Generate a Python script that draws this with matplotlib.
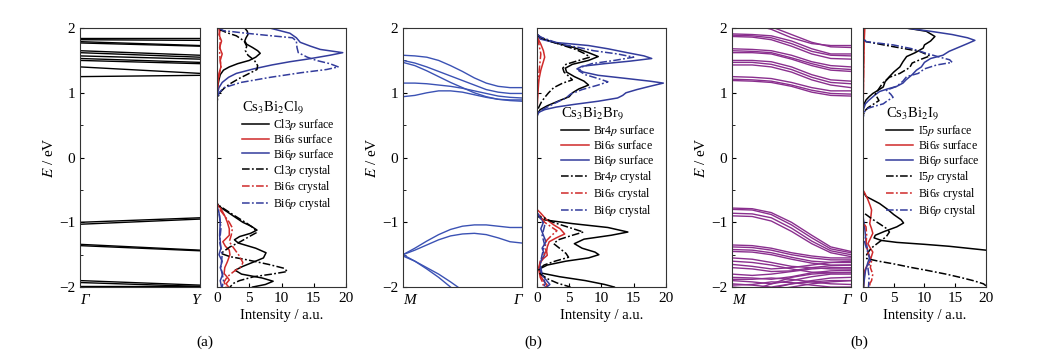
import numpy as np
import matplotlib
matplotlib.use("Agg")
import matplotlib.pyplot as plt

plt.rcParams['font.family'] = ['Liberation Serif', 'DejaVu Serif']
plt.rcParams['mathtext.fontset'] = 'stix'

# ---------------- band structures (k from 0 to 1) ----------------
k_a = [0.0, 0.5, 1.0]
bands_a = [
    [1.85, 1.85, 1.85], [1.82, 1.815, 1.81], [1.79, 1.76, 1.73], [1.77, 1.745, 1.72],
    [1.65, 1.615, 1.58], [1.62, 1.585, 1.55], [1.57, 1.545, 1.52], [1.53, 1.50, 1.47],
    [1.50, 1.475, 1.45], [1.40, 1.35, 1.30], [1.25, 1.26, 1.27],
    [-1.00, -0.965, -0.93], [-1.03, -0.99, -0.95], [-1.34, -1.385, -1.43],
    [-1.36, -1.40, -1.44], [-1.90, -1.935, -1.97], [-1.93, -1.96, -1.99], [-1.99, -1.99, -1.99],
]

k_b = [0.0, 0.1, 0.2, 0.3, 0.4, 0.5, 0.6, 0.7, 0.8, 0.9, 1.0]
bands_b = [
    [1.58, 1.57, 1.55, 1.50, 1.42, 1.33, 1.23, 1.15, 1.10, 1.08, 1.08],
    [1.50, 1.46, 1.40, 1.33, 1.26, 1.19, 1.12, 1.05, 1.01, 0.99, 0.99],
    [1.47, 1.42, 1.34, 1.25, 1.16, 1.08, 1.00, 0.94, 0.90, 0.88, 0.87],
    [1.15, 1.15, 1.14, 1.12, 1.10, 1.07, 1.03, 0.99, 0.95, 0.93, 0.92],
    [0.94, 0.96, 1.00, 1.03, 1.03, 1.01, 0.97, 0.93, 0.90, 0.89, 0.89],
    [-1.50, -1.40, -1.29, -1.19, -1.11, -1.06, -1.04, -1.04, -1.06, -1.08, -1.08],
    [-1.50, -1.43, -1.35, -1.27, -1.21, -1.18, -1.17, -1.19, -1.24, -1.30, -1.32],
    [-1.50, -1.60, -1.72, -1.85, -2.00, -2.15, -2.30, -2.45, -2.60, -2.75, -2.90],
    [-1.52, -1.60, -1.70, -1.80, -1.92, -2.05, -2.20, -2.35, -2.50, -2.65, -2.80],
]

k_c = [0.0, 0.17, 0.33, 0.5, 0.67, 0.83, 1.0]
bands_c = [
    [2.10, 2.06, 1.98, 1.85, 1.76, 1.73, 1.73], [2.15, 2.10, 2.02, 1.90, 1.78, 1.71, 1.70],
    [1.91, 1.90, 1.88, 1.80, 1.68, 1.60, 1.60], [1.89, 1.88, 1.85, 1.76, 1.64, 1.58, 1.57],
    [1.87, 1.86, 1.82, 1.72, 1.60, 1.53, 1.52], [1.68, 1.67, 1.65, 1.58, 1.48, 1.42, 1.40],
    [1.65, 1.64, 1.62, 1.54, 1.45, 1.38, 1.36], [1.62, 1.62, 1.60, 1.52, 1.42, 1.35, 1.33],
    [1.50, 1.50, 1.48, 1.40, 1.28, 1.20, 1.18], [1.47, 1.47, 1.44, 1.36, 1.24, 1.16, 1.14],
    [1.43, 1.43, 1.40, 1.32, 1.20, 1.12, 1.08], [1.25, 1.24, 1.22, 1.16, 1.08, 1.03, 1.03],
    [1.21, 1.20, 1.18, 1.12, 1.04, 0.99, 0.98], [1.19, 1.18, 1.16, 1.10, 1.01, 0.96, 0.95],
    [-0.78, -0.79, -0.85, -1.00, -1.20, -1.38, -1.45], [-0.80, -0.81, -0.88, -1.04, -1.24, -1.41, -1.47],
    [-0.86, -0.87, -0.93, -1.09, -1.29, -1.44, -1.50], [-0.90, -0.91, -0.98, -1.14, -1.33, -1.47, -1.53],
    [-1.35, -1.36, -1.40, -1.47, -1.52, -1.55, -1.55], [-1.38, -1.39, -1.43, -1.50, -1.55, -1.58, -1.58],
    [-1.42, -1.43, -1.47, -1.54, -1.60, -1.62, -1.62], [-1.45, -1.46, -1.50, -1.57, -1.63, -1.66, -1.66],
    [-1.55, -1.57, -1.62, -1.68, -1.70, -1.72, -1.72], [-1.60, -1.62, -1.66, -1.72, -1.77, -1.78, -1.78],
    [-1.65, -1.68, -1.72, -1.70, -1.66, -1.62, -1.60], [-1.70, -1.72, -1.76, -1.75, -1.70, -1.67, -1.66],
    [-1.80, -1.82, -1.80, -1.76, -1.72, -1.70, -1.70], [-1.85, -1.86, -1.88, -1.84, -1.78, -1.75, -1.74],
    [-1.88, -1.88, -1.86, -1.88, -1.92, -1.95, -1.96], [-1.90, -1.92, -1.95, -1.90, -1.84, -1.80, -1.80],
    [-1.95, -1.97, -2.00, -1.95, -1.90, -1.86, -1.85], [-1.97, -1.96, -1.92, -1.93, -1.97, -2.00, -2.00],
    [-2.00, -2.02, -2.05, -2.00, -1.95, -1.92, -1.90], [-2.10, -2.05, -1.95, -1.85, -1.80, -1.78, -1.77],
    [-2.10, -2.08, -2.02, -1.95, -1.92, -1.90, -1.90],
]

# ---------------- projected DOS, (E, intensity) pairs ----------------
a_halp_surf = [(2.0, 4.3), (1.95, 4.7), (1.9, 4.8), (1.85, 4.5), (1.8, 4.3), (1.75, 4.6), (1.7, 5.5), (1.65, 6.3),
               (1.61, 6.7), (1.55, 6.0), (1.5, 5.0), (1.45, 3.2), (1.4, 1.9), (1.35, 1.0), (1.28, 0.5), (1.2, 0.3),
               (1.1, 0.1), (1.0, 0.0), (-0.7, 0.0), (-0.75, 0.3), (-0.8, 1.0), (-0.9, 2.5), (-1.0, 4.0), (-1.06, 5.3),
               (-1.12, 6.2), (-1.17, 5.2), (-1.22, 3.5), (-1.27, 2.7), (-1.32, 3.3), (-1.4, 6.0), (-1.47, 7.6),
               (-1.55, 7.2), (-1.62, 5.5), (-1.68, 4.0), (-1.74, 2.8), (-1.8, 3.8), (-1.86, 7.0), (-1.91, 8.7),
               (-1.96, 7.5), (-2.0, 5.5)]
a_bi6s_surf = [(2.0, 0.6), (1.9, 0.3), (1.8, 0.7), (1.7, 0.4), (1.6, 0.8), (1.5, 0.5), (1.4, 0.6), (1.3, 0.3),
               (1.2, 0.2), (1.1, 0.1), (1.0, 0.0), (-0.72, 0.0), (-0.79, 0.6), (-0.9, 1.2), (-1.0, 1.6), (-1.1, 1.9),
               (-1.2, 1.9), (-1.3, 0.9), (-1.37, 1.3), (-1.43, 1.9), (-1.5, 2.0), (-1.61, 1.6), (-1.7, 1.2),
               (-1.79, 1.1), (-1.85, 1.6), (-1.89, 1.9), (-1.95, 1.4), (-2.0, 1.8)]
a_bi6p_surf = [(2.0, 8.2), (1.92, 11.3), (1.85, 12.3), (1.78, 12.9), (1.72, 14.5), (1.67, 16.0), (1.62, 19.5),
               (1.58, 17.5), (1.52, 14.0), (1.48, 11.3), (1.43, 8.5), (1.37, 5.7), (1.3, 3.0), (1.24, 1.8),
               (1.16, 0.8), (1.08, 0.3), (1.0, 0.1), (0.9, 0.0), (-0.75, 0.0), (-0.85, 0.3), (-1.0, 0.5),
               (-1.2, 0.4), (-1.4, 0.6), (-1.5, 0.3), (-1.6, 0.8), (-1.7, 0.5), (-1.8, 0.9), (-1.9, 0.5), (-2.0, 0.7)]
a_halp_cry = [(1.98, 0.3), (1.93, 1.5), (1.88, 3.0), (1.8, 4.2), (1.72, 4.6), (1.65, 4.4), (1.58, 4.8), (1.5, 5.8),
              (1.42, 6.3), (1.36, 6.2), (1.3, 5.0), (1.22, 3.4), (1.15, 2.2), (1.08, 1.2), (1.0, 0.4), (0.92, 0.1),
              (0.85, 0.0), (-0.72, 0.0), (-0.76, 0.6), (-0.89, 2.6), (-1.02, 4.7), (-1.1, 5.8), (-1.16, 6.1),
              (-1.22, 5.0), (-1.3, 3.6), (-1.38, 2.0), (-1.48, 0.6), (-1.53, 2.0), (-1.58, 4.7), (-1.65, 8.0),
              (-1.71, 10.4), (-1.76, 10.9), (-1.8, 8.5), (-1.84, 5.7), (-1.9, 3.5), (-1.94, 2.6), (-2.0, 2.0)]
a_bi6s_cry = [(2.0, 0.3), (1.8, 0.5), (1.6, 0.4), (1.4, 0.6), (1.2, 0.2), (1.0, 0.0), (-0.75, 0.0), (-0.8, 0.4),
              (-0.89, 1.1), (-1.0, 1.9), (-1.09, 2.4), (-1.2, 2.2), (-1.3, 1.9), (-1.4, 2.6), (-1.51, 3.4),
              (-1.62, 4.0), (-1.68, 3.8), (-1.76, 2.6), (-1.84, 1.6), (-1.92, 1.1), (-2.0, 1.4)]
a_bi6p_cry = [(2.0, 0.3), (1.96, 1.0), (1.92, 4.5), (1.88, 8.5), (1.85, 11.7), (1.8, 12.3), (1.7, 12.4),
              (1.62, 12.6), (1.55, 14.0), (1.5, 15.4), (1.45, 17.5), (1.4, 18.8), (1.36, 17.0), (1.31, 13.0),
              (1.24, 8.3), (1.16, 3.7), (1.08, 1.1), (1.0, 0.3), (0.9, 0.0), (-0.75, 0.0), (-0.9, 0.4), (-1.1, 0.6),
              (-1.3, 0.4), (-1.5, 0.8), (-1.7, 0.6), (-1.9, 1.0), (-2.0, 0.8)]

b_halp_surf = [(1.9, 0.1), (1.85, 0.5), (1.78, 2.5), (1.7, 5.7), (1.62, 8.0), (1.56, 9.5), (1.5, 8.0), (1.44, 5.5),
               (1.38, 4.4), (1.32, 4.6), (1.25, 5.8), (1.18, 7.3), (1.12, 8.0), (1.06, 6.5), (1.0, 5.5), (0.94, 5.0),
               (0.88, 3.5), (0.8, 1.6), (0.74, 0.5), (0.68, 0.1), (0.6, 0.0), (-0.9, 0.0), (-0.96, 1.0),
               (-1.02, 5.5), (-1.08, 11.0), (-1.15, 14.1), (-1.2, 11.5), (-1.26, 7.3), (-1.33, 5.8), (-1.4, 7.0),
               (-1.46, 9.0), (-1.5, 9.6), (-1.55, 8.0), (-1.6, 4.5), (-1.66, 1.6), (-1.72, 0.4), (-1.78, 0.5),
               (-1.84, 3.5), (-1.9, 7.5), (-1.96, 10.5), (-2.0, 12.0)]
b_bi6s_surf = [(1.85, 0.1), (1.75, 0.6), (1.65, 1.0), (1.55, 1.2), (1.45, 0.9), (1.35, 0.6), (1.2, 0.3), (1.0, 0.15),
               (0.8, 0.05), (0.7, 0.0), (-0.8, 0.0), (-0.86, 0.6), (-0.95, 1.4), (-1.04, 2.6), (-1.1, 3.6),
               (-1.18, 4.3), (-1.24, 3.0), (-1.3, 1.9), (-1.38, 1.6), (-1.45, 1.5), (-1.51, 1.6), (-1.56, 1.0),
               (-1.61, 0.6), (-1.7, 0.3), (-1.8, 0.4), (-1.9, 1.0), (-1.97, 1.6), (-2.0, 1.3)]
b_bi6p_surf = [(1.88, 0.1), (1.83, 0.5), (1.78, 2.6), (1.73, 8.0), (1.68, 11.0), (1.62, 14.0), (1.57, 16.6),
               (1.53, 17.8), (1.49, 14.5), (1.45, 10.5), (1.41, 7.0), (1.37, 6.2), (1.32, 7.2), (1.27, 9.5),
               (1.22, 14.0), (1.18, 17.5), (1.15, 19.6), (1.1, 17.5), (1.05, 15.5), (1.0, 13.8), (0.96, 13.3),
               (0.92, 12.5), (0.87, 9.5), (0.82, 5.7), (0.78, 3.0), (0.74, 1.2), (0.7, 0.3), (0.64, 0.0),
               (-0.85, 0.0), (-0.9, 0.4), (-1.0, 1.0), (-1.1, 0.6), (-1.2, 1.0), (-1.3, 1.4), (-1.4, 0.8),
               (-1.5, 1.2), (-1.6, 0.6), (-1.7, 0.4), (-1.8, 0.7), (-1.9, 1.5), (-1.96, 2.0), (-2.0, 1.5)]
b_halp_cry = [(1.88, 0.2), (1.83, 1.1), (1.75, 3.5), (1.67, 6.0), (1.6, 7.5), (1.55, 8.2), (1.5, 6.5), (1.44, 4.5),
              (1.38, 4.0), (1.32, 4.2), (1.25, 5.0), (1.2, 5.5), (1.15, 4.0), (1.08, 2.6), (1.0, 1.8), (0.94, 1.3),
              (0.86, 0.7), (0.78, 0.3), (0.7, 0.0), (-0.9, 0.0), (-0.93, 1.1), (-1.0, 2.5), (-1.08, 5.0),
              (-1.15, 7.2), (-1.2, 5.5), (-1.27, 3.3), (-1.33, 2.6), (-1.4, 3.5), (-1.48, 4.5), (-1.54, 4.9),
              (-1.6, 2.8), (-1.66, 1.1), (-1.73, 0.3), (-1.8, 0.5), (-1.88, 1.8), (-1.94, 3.2), (-2.0, 5.2)]
b_bi6s_cry = [(1.85, 0.1), (1.7, 0.4), (1.6, 0.6), (1.5, 0.5), (1.3, 0.3), (1.0, 0.1), (0.8, 0.0), (-0.85, 0.0),
              (-0.9, 0.5), (-1.0, 1.2), (-1.09, 2.5), (-1.13, 3.1), (-1.2, 2.3), (-1.28, 1.5), (-1.36, 1.3),
              (-1.45, 1.4), (-1.52, 1.0), (-1.6, 0.5), (-1.7, 0.3), (-1.85, 0.5), (-1.95, 1.0), (-2.0, 0.8)]
b_bi6p_cry = [(1.9, 0.1), (1.86, 0.6), (1.8, 2.3), (1.75, 3.7), (1.7, 6.5), (1.65, 8.8), (1.6, 12.5), (1.55, 15.0),
              (1.5, 12.0), (1.45, 8.5), (1.4, 7.0), (1.34, 6.5), (1.28, 7.5), (1.22, 9.5), (1.17, 11.0),
              (1.12, 9.5), (1.05, 7.0), (0.98, 5.2), (0.92, 4.5), (0.85, 3.0), (0.78, 1.6), (0.72, 0.5),
              (0.65, 0.0), (-0.85, 0.0), (-0.95, 0.6), (-1.05, 1.2), (-1.2, 0.8), (-1.35, 1.2), (-1.5, 0.8),
              (-1.65, 0.5), (-1.8, 0.8), (-1.95, 1.3), (-2.0, 1.0)]

c_halp_surf = [(2.0, 7.1), (1.95, 10.3), (1.87, 11.7), (1.8, 11.0), (1.74, 10.0), (1.69, 9.8), (1.62, 8.5),
               (1.56, 7.1), (1.48, 6.5), (1.4, 6.0), (1.32, 5.0), (1.25, 4.3), (1.17, 3.6), (1.09, 3.3), (1.03, 2.3),
               (0.99, 1.6), (0.94, 1.0), (0.89, 0.5), (0.83, 0.2), (0.75, 0.0), (-0.52, 0.0), (-0.6, 0.5),
               (-0.71, 2.7), (-0.8, 4.0), (-0.88, 5.0), (-0.96, 6.2), (-1.01, 6.6), (-1.07, 5.5), (-1.14, 3.5),
               (-1.2, 2.0), (-1.24, 1.8), (-1.28, 3.0), (-1.31, 5.5), (-1.34, 10.0), (-1.37, 14.0), (-1.4, 17.0),
               (-1.43, 20.0)]
c_bi6s_surf = [(2.0, 0.3), (1.8, 0.2), (1.5, 0.15), (1.2, 0.1), (0.9, 0.05), (0.7, 0.0), (-0.5, 0.0), (-0.55, 0.3),
               (-0.65, 0.8), (-0.75, 1.2), (-0.81, 1.4), (-0.9, 1.3), (-1.02, 1.1), (-1.1, 1.4), (-1.17, 1.6),
               (-1.25, 1.2), (-1.33, 0.8), (-1.4, 1.2), (-1.46, 1.6), (-1.52, 1.4), (-1.61, 1.1), (-1.68, 0.6),
               (-1.74, 0.3), (-1.85, 0.2), (-2.0, 0.1)]
c_bi6p_surf = [(2.0, 7.0), (1.95, 11.0), (1.9, 14.5), (1.85, 17.0), (1.81, 18.2), (1.76, 17.0), (1.7, 15.5),
               (1.64, 14.0), (1.58, 13.0), (1.53, 11.0), (1.47, 10.0), (1.4, 9.5), (1.35, 8.7), (1.28, 8.0),
               (1.2, 7.0), (1.15, 6.5), (1.1, 5.5), (1.06, 4.0), (1.02, 2.7), (0.97, 2.0), (0.93, 1.5), (0.88, 0.9),
               (0.83, 0.4), (0.75, 0.1), (0.65, 0.0), (-0.9, 0.0), (-1.1, 0.3), (-1.3, 0.5), (-1.45, 0.8),
               (-1.54, 1.1), (-1.62, 0.8), (-1.75, 0.4), (-1.9, 0.2), (-2.0, 0.1)]
c_halp_cry = [(1.82, 0.2), (1.79, 0.5), (1.72, 4.5), (1.64, 9.2), (1.57, 10.9), (1.52, 9.5), (1.46, 8.0),
              (1.39, 7.6), (1.3, 6.0), (1.24, 4.3), (1.15, 3.2), (1.05, 2.5), (0.98, 2.0), (0.93, 2.3), (0.88, 2.6),
              (0.83, 1.8), (0.77, 0.8), (0.72, 0.3), (0.65, 0.0), (-0.85, 0.0), (-0.88, 0.5), (-0.95, 1.5),
              (-1.03, 2.8), (-1.1, 3.9), (-1.15, 4.3), (-1.22, 3.8), (-1.3, 2.7), (-1.38, 1.6), (-1.43, 1.1),
              (-1.5, 0.6), (-1.56, 0.6), (-1.6, 2.5), (-1.64, 4.9), (-1.7, 8.0), (-1.74, 10.3), (-1.8, 13.5),
              (-1.85, 15.8), (-1.9, 17.9), (-1.95, 19.6), (-1.98, 20.0)]
c_bi6s_cry = [(2.0, 0.2), (1.6, 0.1), (1.0, 0.05), (0.8, 0.0), (-1.0, 0.0), (-1.07, 0.5), (-1.2, 0.6), (-1.35, 0.5),
              (-1.5, 0.9), (-1.59, 1.4), (-1.7, 1.2), (-1.8, 1.6), (-1.9, 1.4), (-1.95, 1.1), (-2.0, 1.2)]
c_bi6p_cry = [(1.82, 0.2), (1.79, 0.5), (1.74, 4.9), (1.68, 8.0), (1.61, 10.3), (1.55, 12.5), (1.51, 14.1),
              (1.47, 14.5), (1.43, 12.0), (1.37, 10.0), (1.3, 9.0), (1.25, 7.1), (1.18, 6.5), (1.1, 5.5),
              (1.04, 3.8), (0.98, 4.5), (0.93, 4.9), (0.88, 4.0), (0.83, 3.3), (0.79, 1.8), (0.76, 0.8),
              (0.7, 0.2), (0.6, 0.0), (-1.2, 0.0), (-1.35, 0.4), (-1.5, 0.9), (-1.6, 1.2), (-1.7, 0.8),
              (-1.85, 1.0), (-2.0, 0.9)]

titles = ['Cs$_3$Bi$_2$Cl$_9$', 'Cs$_3$Bi$_2$Br$_9$', 'Cs$_3$Bi$_2$I$_9$']
halogens = ['Cl3', 'Br4', 'I5']
k_labels = [('Γ', 'Y'), ('M', 'Γ'), ('M', 'Γ')]
panel_tags = ['(a)', '(b)', '(b)']
band_colors = ['black', '#3b52b4', '#8a2f8e']
dos_black, dos_red, dos_blue = 'black', '#d02a2a', '#333c9c'

fig = plt.figure(figsize=(10.51, 3.62), dpi=100)
bot, hgt = 0.207, 0.7155
band_rects = [(0.0761, 0.1142), (0.3834, 0.1132), (0.6965, 0.1132)]
dos_rects = [(0.2065, 0.1227), (0.5109, 0.1227), (0.8211, 0.1170)]
tag_x = [0.195, 0.507, 0.818]
legend_y = [0.725, 0.70, 0.70]

panels = [
    (k_a, bands_a, [a_halp_surf, a_bi6s_surf, a_bi6p_surf, a_halp_cry, a_bi6s_cry, a_bi6p_cry]),
    (k_b, bands_b, [b_halp_surf, b_bi6s_surf, b_bi6p_surf, b_halp_cry, b_bi6s_cry, b_bi6p_cry]),
    (k_c, bands_c, [c_halp_surf, c_bi6s_surf, c_bi6p_surf, c_halp_cry, c_bi6s_cry, c_bi6p_cry]),
]

for i, (kk, bands, curves) in enumerate(panels):
    axb = fig.add_axes([band_rects[i][0], bot, band_rects[i][1], hgt])
    axd = fig.add_axes([dos_rects[i][0], bot, dos_rects[i][1], hgt])

    for b in bands:
        axb.plot(kk, b, color=band_colors[i], lw=1.0)
    axb.set_xlim(0, 1)
    axb.set_ylim(-2, 2)
    axb.set_yticks([-2, -1, 0, 1, 2])
    axb.set_yticks([-1.5, -0.5, 0.5, 1.5], minor=True)
    axb.set_yticklabels(['\u22122', '\u22121', '0', '1', '2'])
    axb.tick_params(axis='y', which='major', direction='in', length=3, labelsize=11)
    axb.tick_params(axis='y', which='minor', direction='in', length=2)
    axb.set_xticks([0, 1])
    axb.set_xticklabels(k_labels[i], fontstyle='italic', fontsize=11)
    axb.get_xticklabels()[0].set_ha('left')
    axb.get_xticklabels()[1].set_ha('right')
    axb.tick_params(axis='x', length=0, pad=5)
    axb.set_ylabel('$E$ / eV', fontsize=11, labelpad=2)

    names = [halogens[i] + '$p$ surface', 'Bi6$s$ surface', 'Bi6$p$ surface',
             halogens[i] + '$p$ crystal', 'Bi6$s$ crystal', 'Bi6$p$ crystal']
    colors = [dos_black, dos_red, dos_blue] * 2
    for j, c in enumerate(curves):
        e = [p[0] for p in c]
        inten = [p[1] for p in c]
        ls = '-' if j < 3 else (0, (5, 1.5, 1.2, 1.5))
        axd.plot(inten, e, color=colors[j], lw=1.1, ls=ls, label=names[j])
    axd.set_xlim(0, 20)
    axd.set_ylim(-2, 2)
    axd.set_xticks([0, 5, 10, 15, 20])
    axd.set_yticks([-1, 0, 1])
    axd.set_yticklabels([])
    axd.tick_params(axis='both', direction='in', length=3, labelsize=11)
    axd.set_xlabel('Intensity / a.u.', fontsize=10.5, labelpad=3)
    leg = axd.legend(loc='upper left', bbox_to_anchor=(0.19, legend_y[i]), frameon=False,
                     fontsize=8.5, title=titles[i], title_fontsize=10.5, handlelength=2.3,
                     handletextpad=0.4, labelspacing=0.08, alignment='left', borderpad=0,
                     borderaxespad=0)

    for ax in (axb, axd):
        for s in ax.spines.values():
            s.set_linewidth(0.8)
            s.set_color('#333333')

    fig.text(tag_x[i], 0.055, panel_tags[i], ha='center', va='center', fontsize=11)

fig.savefig('out.png', dpi=100)
